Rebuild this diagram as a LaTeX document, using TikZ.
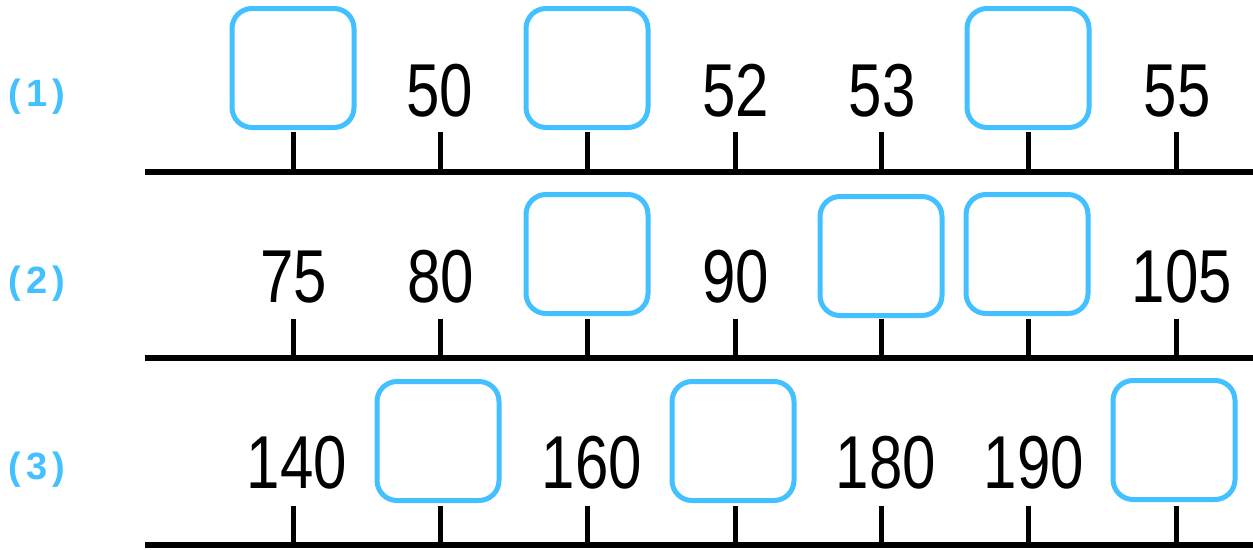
\documentclass[tikz,border=0pt]{standalone}
\usepackage{fontspec}
\setmainfont{Liberation Sans}
\newfontfamily\numfont[FakeStretch=0.8]{Liberation Sans}
\definecolor{boxblue}{RGB}{66,192,255}
\tikzset{
  axisline/.style={line width=6pt, black},
  tickline/.style={line width=5pt, black},
  answerbox/.style={draw=boxblue, line width=5pt, rounded corners=20pt, minimum width=122pt, minimum height=119pt, inner sep=0pt},
  numlabel/.style={anchor=base, inner sep=0pt, font=\numfont\fontsize{75}{80}\selectfont},
  rowlabel/.style={text=boxblue, inner sep=0pt, font=\bfseries\fontsize{38}{42}\selectfont}
}
\begin{document}
\begin{tikzpicture}[x=1pt, y=-1pt]
\useasboundingbox (0,0) rectangle (1253,549);
% ---------- Row 1 ----------
\coordinate (a1s) at (145,172);
\coordinate (a1e) at (1253,172);
\draw[axisline] (a1s) -- (a1e);
\foreach \x [count=\i] in {293,440,587,735,881,1028,1176} {
  \coordinate (r1b\i) at (\x,172);
  \coordinate (r1t\i) at (\x,132);
  \draw[tickline] (r1b\i) -- (r1t\i);
}
\node[rowlabel] (lab1) at (37,97) {(\hspace{5pt}1\hspace{5pt})};
\node[answerbox] (b11) at (293,68) {};
\node[numlabel] (n12) at (440,116) {50};
\node[answerbox] (b13) at (587,68) {};
\node[numlabel] (n14) at (736,116) {52};
\node[numlabel] (n15) at (882,116) {53};
\node[answerbox] (b16) at (1028,68) {};
\node[numlabel] (n17) at (1177,116) {55};
% ---------- Row 2 ----------
\coordinate (a2s) at (145,358);
\coordinate (a2e) at (1253,358);
\draw[axisline] (a2s) -- (a2e);
\foreach \x [count=\i] in {293,440,587,735,881,1028,1176} {
  \coordinate (r2b\i) at (\x,358);
  \coordinate (r2t\i) at (\x,319);
  \draw[tickline] (r2b\i) -- (r2t\i);
}
\node[rowlabel] (lab2) at (37,284) {(\hspace{5pt}2\hspace{5pt})};
\node[numlabel] (n21) at (294,302) {75};
\node[numlabel] (n22) at (441,302) {80};
\node[answerbox] (b23) at (587,254) {};
\node[numlabel] (n24) at (736,302) {90};
\node[answerbox] (b25) at (881,256) {};
\node[answerbox] (b26) at (1027,254) {};
\node[numlabel] (n27) at (1182,302) {105};
% ---------- Row 3 ----------
\coordinate (a3s) at (145,545);
\coordinate (a3e) at (1253,545);
\draw[axisline] (a3s) -- (a3e);
\foreach \x [count=\i] in {293,440,587,735,881,1028,1176} {
  \coordinate (r3b\i) at (\x,545);
  \coordinate (r3t\i) at (\x,506);
  \draw[tickline] (r3b\i) -- (r3t\i);
}
\node[rowlabel] (lab3) at (37,470) {(\hspace{5pt}3\hspace{5pt})};
\node[numlabel] (n31) at (297,488) {140};
\node[answerbox] (b32) at (438,441) {};
\node[numlabel] (n33) at (592,488) {160};
\node[answerbox] (b34) at (733,441) {};
\node[numlabel] (n35) at (886,488) {180};
\node[numlabel] (n36) at (1034,488) {190};
\node[answerbox] (b37) at (1174,440) {};
\end{tikzpicture}
\end{document}
